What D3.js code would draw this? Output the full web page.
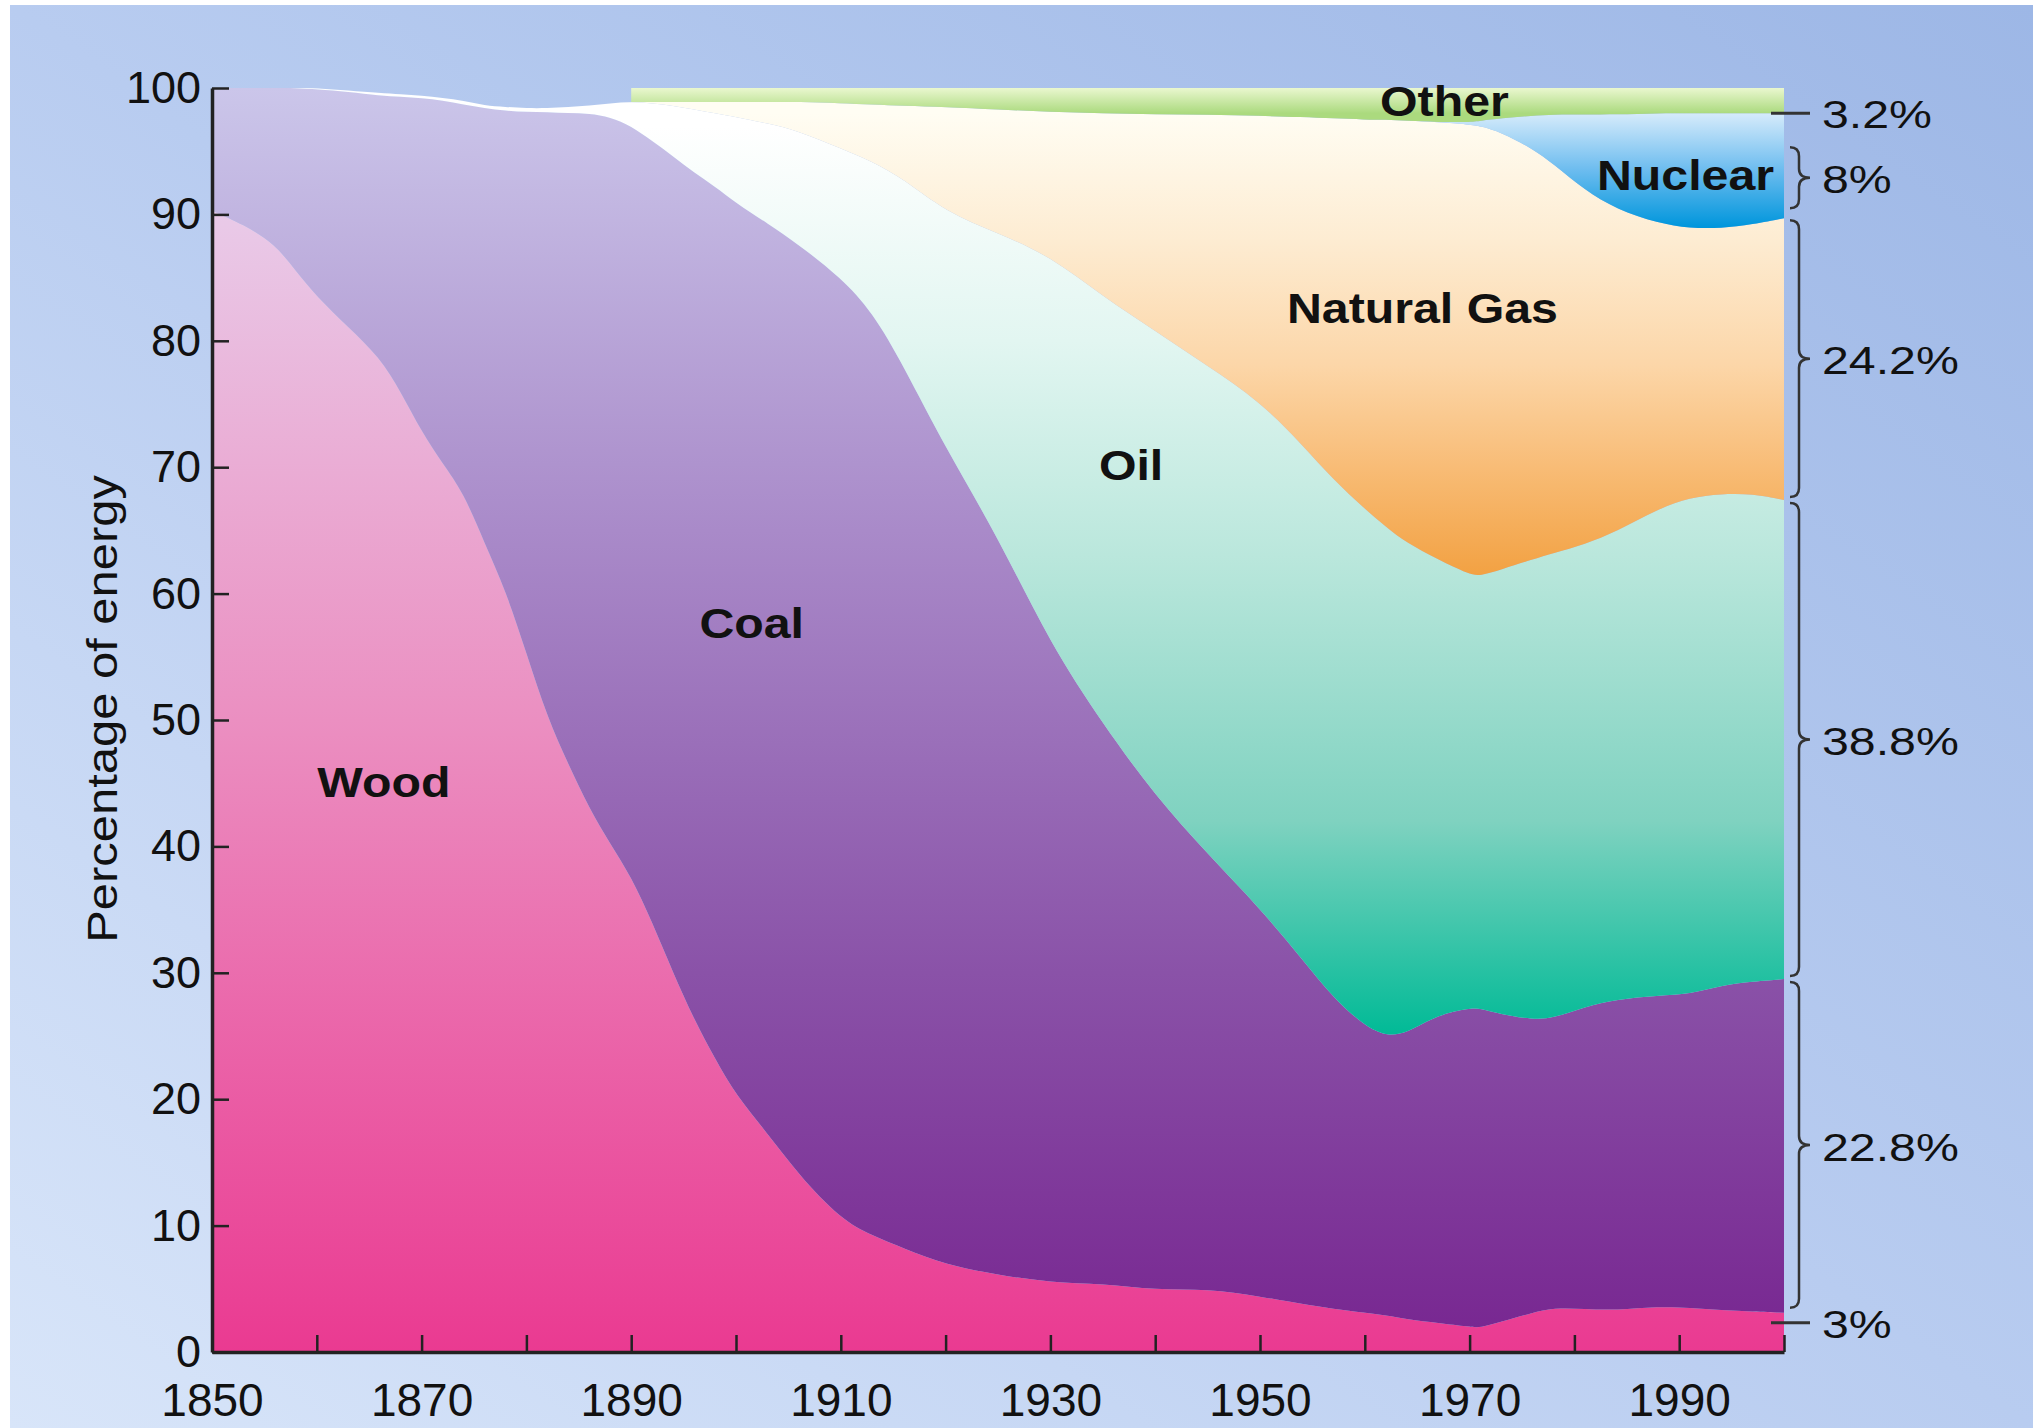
<!DOCTYPE html>
<html>
<head>
<meta charset="utf-8">
<script src="https://cdn.jsdelivr.net/npm/d3@7/dist/d3.min.js"></script>
<style>
    html, body { margin: 0; padding: 0; background: #ffffff; }
    svg { display: block; }
    text { font-family: "Liberation Sans", Arial, Helvetica, sans-serif; fill: #111; }
</style>
</head>
<body>
<div id="chart"></div>
<script>
// share of US energy consumption (percent)
var years = [1850, 1853, 1856, 1858, 1860, 1863, 1866, 1868, 1870, 1872,
             1874, 1876, 1878, 1880, 1882, 1884, 1886, 1888, 1890, 1892,
             1894, 1896, 1898, 1900, 1903, 1906, 1910, 1913, 1916, 1920,
             1925, 1930, 1935, 1940, 1945, 1950, 1954, 1957, 1960, 1962,
             1964, 1967, 1970, 1971, 1973, 1976, 1978, 1981, 1984, 1988,
             1991, 1994, 1997, 2000];

var wood = [90.3, 89.2, 87.7, 85.5, 83.5, 81.1, 78.7, 76.0, 72.8, 70.3,
            68.0, 64.0, 60.3, 55.3, 50.2, 46.5, 43.0, 40.2, 37.6, 34.0,
            30.0, 26.3, 23.2, 20.3, 17.3, 14.0, 10.5, 9.2, 8.2, 6.9,
            6.1, 5.5, 5.4, 4.9, 5.0, 4.4, 3.8, 3.4, 3.1, 2.9,
            2.6, 2.3, 2.0, 1.9, 2.4, 3.1, 3.5, 3.4, 3.3, 3.6,
            3.5, 3.3, 3.2, 3.1];

var coal = [9.7, 10.8, 12.3, 14.5, 16.4, 18.6, 20.7, 23.3, 26.4, 28.7,
            30.7, 34.4, 37.9, 42.8, 47.9, 51.5, 55.0, 57.5, 59.4, 61.8,
            64.6, 67.0, 69.0, 70.6, 72.0, 73.6, 74.5, 73.1, 69.8, 64.6,
            58.4, 50.5, 44.3, 39.1, 34.4, 30.7, 27.3, 24.6, 22.7, 22.1,
            22.6, 24.4, 25.2, 25.3, 24.3, 23.2, 22.9, 23.9, 24.6, 24.6,
            24.8, 25.7, 26.1, 26.4];

var oil = [0, 0, 0, 0, 0.1, 0.1, 0.2, 0.2, 0.2, 0.2,
           0.3, 0.2, 0.3, 0.3, 0.3, 0.5, 0.6, 1.1, 1.9, 3.0,
           4.0, 5.0, 5.8, 6.8, 7.9, 9.0, 10.2, 11.9, 14.8, 18.7,
           24.0, 30.7, 33.8, 36.8, 38.6, 40.1, 40.7, 41.0, 40.9, 40.3,
           38.8, 36.0, 34.3, 34.2, 35.2, 36.4, 36.8, 36.6, 37.0, 38.5,
           39.3, 38.9, 38.6, 37.9];

var gas = [0, 0, 0, 0, 0, 0, 0, 0, 0, 0,
           0, 0, 0, 0, 0, 0, 0, 0, 0, 0.1,
           0.3, 0.6, 0.9, 1.2, 1.7, 2.3, 3.6, 4.5, 5.8, 8.3,
           9.8, 11.4, 14.5, 17.1, 19.9, 22.6, 25.9, 28.6, 30.8, 32.2,
           33.4, 34.6, 35.6, 35.6, 34.6, 32.5, 30.8, 28.0, 25.5, 22.6,
           21.3, 21.0, 21.3, 22.3];

var nuclear = [0, 0, 0, 0, 0, 0, 0, 0, 0, 0,
               0, 0, 0, 0, 0, 0, 0, 0, 0, 0,
               0, 0, 0, 0, 0, 0, 0, 0, 0, 0,
               0, 0, 0, 0, 0, 0, 0, 0, 0, 0,
               0, 0, 0.2, 0.4, 1.1, 2.6, 3.9, 6.0, 7.5, 8.7,
               9.1, 9.1, 8.8, 8.3];

// "Other" is only drawn from 1890 on
var other = [null, null, null, null, null, null, null, null, null, null,
             null, null, null, null, null, null, null, null, 1.1, 1.1,
             1.1, 1.1, 1.1, 1.1, 1.1, 1.1, 1.2, 1.3, 1.4, 1.5,
             1.7, 1.9, 2.0, 2.1, 2.1, 2.2, 2.3, 2.4, 2.5, 2.5,
             2.6, 2.7, 2.7, 2.6, 2.4, 2.2, 2.1, 2.1, 2.1, 2.0,
             2.0, 2.0, 2.0, 2.0];

var sources = ["Wood", "Coal", "Oil", "Natural Gas", "Nuclear", "Other"];
// shares written at the right edge, same order as sources
var shareLabels = ["3%", "22.8%", "38.8%", "24.2%", "8%", "3.2%"];

var yTicks = [0, 10, 20, 30, 40, 50, 60, 70, 80, 90, 100];
var xTicks = [1850, 1860, 1870, 1880, 1890, 1900, 1910, 1920, 1930, 1940,
              1950, 1960, 1970, 1980, 1990, 2000];
var xLabelYears = [1850, 1870, 1890, 1910, 1930, 1950, 1970, 1990];

// ---- layout / styles ----
var width = 2040, height = 1428;

var fills = {
    "Wood": [[90, "#e9cae8"], [50, "#eb8fc1"], [0, "#ea3a91"]],
    "Coal": [[100, "#cbc6ea"], [65, "#a98ac9"], [30, "#8a52a8"], [0, "#772590"]],
    "Oil": [[97, "#ffffff"], [80, "#e2f6f1"], [63, "#bae7dc"], [42, "#7fd2c0"], [25, "#00ba96"]],
    "Natural Gas": [[98, "#fffdf3"], [88, "#fdecd2"], [78, "#fcd6a8"], [70, "#f8bc76"], [61, "#f2a040"]],
    "Nuclear": [[98, "#d6ebfb"], [93.5, "#6cbcef"], [89, "#0096dc"]],
    "Other": [[100, "#eaf7cf"], [98, "#abda7e"]]
};

// where the source names sit, in chart units (year, percent of baseline)
var namePlaces = {
    "Wood": [1866.4, 43.9],
    "Coal": [1901.5, 56.5],
    "Oil": [1937.7, 69.0],
    "Natural Gas": [1965.5, 81.4],
    "Nuclear": [1990.6, 91.9],
    "Other": [1967.6, 97.8]
};

var x = d3.scaleLinear().domain([1850, 2000]).range([212, 1784]);
var y = d3.scaleLinear().domain([0, 100]).range([1352, 88]);

var svg = d3.select("#chart")
    .append("svg")
    .attr("width", width)
    .attr("height", height);

var defs = svg.append("defs");

var bg = defs.append("linearGradient")
    .attr("id", "bg")
    .attr("x1", 0).attr("y1", 1)
    .attr("x2", 1).attr("y2", 0);
bg.append("stop").attr("offset", 0).attr("stop-color", "#d8e5f9");
bg.append("stop").attr("offset", 0.5).attr("stop-color", "#b8ccf0");
bg.append("stop").attr("offset", 1).attr("stop-color", "#9db7e6");

svg.append("rect")
    .attr("x", 10).attr("y", 5)
    .attr("width", 2023).attr("height", height - 5)
    .attr("fill", "url(#bg)");

sources.forEach(function (key, i) {
    var stops = fills[key];
    var y1 = y(stops[0][0]), y2 = y(stops[stops.length - 1][0]);
    var g = defs.append("linearGradient")
        .attr("id", "fill" + i)
        .attr("gradientUnits", "userSpaceOnUse")
        .attr("x1", 0).attr("x2", 0)
        .attr("y1", y1).attr("y2", y2);
    stops.forEach(function (s) {
        g.append("stop")
            .attr("offset", (y(s[0]) - y1) / (y2 - y1))
            .attr("stop-color", s[1]);
    });
});

var table = years.map(function (yr, i) {
    return {
        year: yr,
        "Wood": wood[i],
        "Coal": coal[i],
        "Oil": oil[i],
        "Natural Gas": gas[i],
        "Nuclear": nuclear[i],
        "Other": other[i]
    };
});

var stack = d3.stack()
    .keys(sources)
    .value(function (d, k) { return d[k] == null ? 0 : d[k]; });

var series = stack(table);

var area = d3.area()
    .x(function (d) { return x(d.data.year); })
    .y0(function (d) { return y(d[0]); })
    .y1(function (d) { return y(d[1]); })
    .curve(d3.curveBasis);

svg.append("g")
    .selectAll("path")
    .data(series)
    .enter()
    .append("path")
    .attr("fill", function (d, i) { return "url(#fill" + i + ")"; })
    .attr("d", function (d) {
        var key = d.key;
        return area.defined(function (p) { return p.data[key] != null; })(d);
    });

// source names
sources.forEach(function (key) {
    var p = namePlaces[key];
    svg.append("text")
        .attr("transform", "translate(" + x(p[0]) + "," + y(p[1]) + ") scale(1.15,1)")
        .attr("text-anchor", "middle")
        .attr("font-size", 42)
        .attr("font-weight", "bold")
        .text(key);
});

// axes
var xAxis = d3.axisBottom(x)
    .tickValues(xTicks)
    .tickSizeInner(-17)
    .tickSizeOuter(0)
    .tickPadding(31)
    .tickFormat(function (d) { return xLabelYears.indexOf(d) >= 0 ? d : ""; });

var yAxis = d3.axisLeft(y)
    .tickValues(yTicks)
    .tickSizeInner(-17)
    .tickSizeOuter(0)
    .tickPadding(11);

var gx = svg.append("g")
    .attr("transform", "translate(0," + y(0) + ")")
    .call(xAxis);

var gy = svg.append("g")
    .attr("transform", "translate(" + x(1850) + ",0)")
    .call(yAxis);

[gx, gy].forEach(function (g) {
    g.select(".domain").attr("stroke", "#222").attr("stroke-width", 3.5);
    g.selectAll(".tick line").attr("stroke", "#222").attr("stroke-width", 2.5);
    g.selectAll(".tick text")
        .attr("fill", "#111")
        .style("font-family", "'Liberation Sans', Arial, Helvetica, sans-serif");
});
gx.selectAll(".tick text").attr("font-size", 46);
gy.selectAll(".tick text").attr("font-size", 45);

svg.append("text")
    .attr("transform", "translate(117,709) rotate(-90) scale(1.165,1)")
    .attr("text-anchor", "middle")
    .attr("font-size", 42)
    .text("Percentage of energy");

// right-hand shares: braces and marks at the last year
var last = series.map(function (s) { return s[s.length - 1]; });
var stemX = 1799, textX = 1822;

function bracePath(sx, y0, y1) {
    var ym = (y0 + y1) / 2, r = 9;
    return "M" + (sx - 9) + "," + y0 +
        " Q" + sx + "," + y0 + " " + sx + "," + (y0 + r) +
        " L" + sx + "," + (ym - r) +
        " Q" + sx + "," + ym + " " + (sx + 11) + "," + ym +
        " Q" + sx + "," + ym + " " + sx + "," + (ym + r) +
        " L" + sx + "," + (y1 - r) +
        " Q" + sx + "," + y1 + " " + (sx - 9) + "," + y1;
}

var marks = svg.append("g");

function shareText(label, cy) {
    marks.append("text")
        .attr("transform", "translate(" + textX + "," + cy + ") scale(1.27,1)")
        .attr("dy", "0.36em")
        .attr("font-size", 38)
        .text(label);
}

function tickMark(yy) {
    marks.append("line")
        .attr("x1", 1771).attr("x2", 1810)
        .attr("y1", yy).attr("y2", yy)
        .attr("stroke", "#333")
        .attr("stroke-width", 3);
}

// braces for coal, oil, gas, nuclear (insets in px)
var braceInsets = { 1: [3, 5], 2: [3, 3], 3: [2, 3], 4: [34, 10] };

sources.forEach(function (key, i) {
    var top = y(last[i][1]), bot = y(last[i][0]);
    if (braceInsets[i]) {
        var y0 = top + braceInsets[i][0], y1 = bot - braceInsets[i][1];
        marks.append("path")
            .attr("d", bracePath(stemX, y0, y1))
            .attr("fill", "none")
            .attr("stroke", "#333")
            .attr("stroke-width", 2.5);
        shareText(shareLabels[i], (y0 + y1) / 2 + 2);
    } else if (key === "Other") {
        tickMark(bot);
        shareText(shareLabels[i], bot + 1);
    } else {
        tickMark(top + 10);
        shareText(shareLabels[i], top + 12);
    }
});
</script>
</body>
</html>
